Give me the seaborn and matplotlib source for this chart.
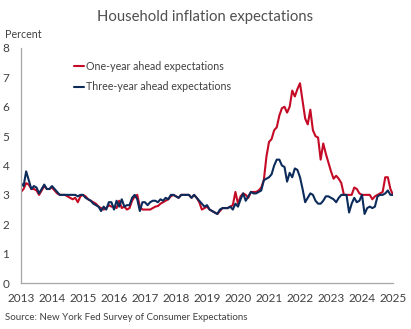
import numpy as np
import pandas as pd
import matplotlib
matplotlib.use("Agg")
import matplotlib.pyplot as plt
import seaborn as sns

# Monthly survey medians, June 2013 through June 2025 (percent)
start_month = "2013-06"
end_month = "2025-06"

one_year = [
    3.1, 3.2, 3.4, 3.35, 3.2, 3.2, 3.15, 3.0, 3.15, 3.3, 3.2, 3.2,
    3.25, 3.15, 3.05, 3.0, 3.0, 3.0, 2.95, 2.9, 2.85, 2.9, 2.75, 2.95,
    3.0, 2.95, 2.85, 2.8, 2.75, 2.7, 2.6, 2.55, 2.5, 2.55, 2.65, 2.6,
    2.6, 2.55, 2.8, 2.55, 2.6, 2.5, 2.55, 2.8, 2.95, 3.0, 2.6, 2.5,
    2.5, 2.5, 2.5, 2.55, 2.6, 2.62, 2.7, 2.75, 2.8, 2.85, 2.95, 3.0,
    2.95, 2.9, 3.0, 3.0, 3.0, 3.0, 2.9, 3.0, 2.9, 2.75, 2.5, 2.55,
    2.6, 2.5, 2.45, 2.4, 2.35, 2.45, 2.55, 2.55, 2.55, 2.6, 2.65, 3.1,
    2.7, 2.95, 3.05, 3.0, 2.9, 3.1, 3.1, 3.1, 3.15, 3.25, 3.5, 4.3,
    4.8, 4.9, 5.2, 5.3, 5.7, 5.95, 6.0, 5.8, 6.0, 6.55, 6.35, 6.6,
    6.8, 6.2, 5.6, 5.4, 5.9, 5.2, 5.0, 4.95, 4.2, 4.75, 4.4, 4.1,
    3.8, 3.55, 3.65, 3.55, 3.4, 3.0, 3.0, 3.0, 3.0, 3.25, 3.2, 3.05,
    3.0, 3.0, 3.0, 3.0, 2.85, 2.95, 3.0, 3.05, 3.1, 3.6, 3.6, 3.2,
    3.0,
]

three_year = [
    3.4, 3.3, 3.8, 3.5, 3.2, 3.3, 3.25, 3.05, 3.2, 3.35, 3.2, 3.2,
    3.3, 3.2, 3.1, 3.0, 3.0, 3.0, 3.0, 3.0, 3.0, 3.0, 2.95, 3.0,
    3.0, 2.9, 2.85, 2.8, 2.7, 2.65, 2.6, 2.45, 2.6, 2.5, 2.75, 2.75,
    2.5, 2.8, 2.6, 2.85, 2.6, 2.65, 2.65, 2.9, 3.0, 2.85, 2.45, 2.75,
    2.75, 2.65, 2.75, 2.8, 2.8, 2.75, 2.85, 2.8, 2.9, 2.85, 3.0, 3.0,
    2.95, 2.9, 3.0, 3.0, 3.0, 3.0, 2.9, 3.0, 2.9, 2.8, 2.7, 2.6,
    2.65, 2.5, 2.45, 2.4, 2.35, 2.5, 2.55, 2.55, 2.55, 2.6, 2.5, 2.7,
    2.6, 2.85, 3.05, 2.8, 2.95, 3.1, 3.05, 3.05, 3.1, 3.15, 3.5, 3.55,
    3.6, 3.7, 4.0, 4.2, 4.2, 4.0, 3.95, 3.45, 3.75, 3.6, 3.9, 3.85,
    3.6, 3.2, 2.75, 2.9, 3.05, 3.0, 2.8, 2.7, 2.7, 2.8, 2.95, 2.95,
    2.9, 2.85, 2.75, 2.9, 3.0, 3.0, 3.0, 2.4, 2.7, 2.9, 2.75, 2.8,
    3.0, 2.35, 2.55, 2.6, 2.55, 2.6, 2.95, 3.0, 3.0, 3.05, 3.15, 3.0,
    3.0,
]

series_names = ["One-year ahead expectations", "Three-year ahead expectations"]
series_colors = ["#C40A25", "#0B2B5B"]
year_labels = [str(y) for y in range(2013, 2026)]
y_ticks = [0, 1, 2, 3, 4, 5, 6, 7, 8]

months = pd.date_range(start_month, end_month, freq="MS")
n = len(months)
df = pd.DataFrame({
    "month": np.tile(np.arange(n), 2),
    "value": one_year + three_year,
    "series": [series_names[0]] * n + [series_names[1]] * n,
})

sns.set_style("white")
plt.rcParams["font.family"] = ["Lato", "DejaVu Sans"]

text_color = "#404040"
axis_color = "#A6A6A6"

fig = plt.figure(figsize=(4.11, 3.29), dpi=100)
ax = fig.add_axes([21 / 411, 1 - 283 / 329, 372 / 411, 235 / 329])

sns.lineplot(
    data=df, x="month", y="value", hue="series",
    palette=dict(zip(series_names, series_colors)),
    linewidth=1.5, ax=ax, legend=True,
)

ax.set_xlim(0, n - 1)
ax.set_ylim(0, 8)
ax.set_xticks(np.arange(0, n, 12))
ax.set_xticklabels(year_labels)
ax.set_yticks(y_ticks)
ax.set_yticklabels([str(t) for t in y_ticks])
ax.set_xlabel("")
ax.set_ylabel("")

for side in ["top", "right"]:
    ax.spines[side].set_visible(False)
for side in ["left", "bottom"]:
    ax.spines[side].set_color(axis_color)
    ax.spines[side].set_linewidth(0.9)

ax.tick_params(axis="x", direction="out", length=4, width=0.9, color=axis_color,
               labelsize=8.5, labelcolor=text_color, pad=3)
ax.tick_params(axis="y", direction="out", length=3, width=0.9, color=axis_color,
               labelsize=8.5, labelcolor=text_color, pad=5.5)

leg = ax.legend(
    loc="upper left", bbox_to_anchor=(0.13, 0.962), frameon=False,
    handlelength=1.0, handletextpad=0.15, labelspacing=0.85,
    fontsize=7.7, labelcolor=text_color, borderaxespad=0.0,
)
for line in leg.get_lines():
    line.set_linewidth(1.5)

fig.text(0.5, 1 - 17 / 329, "Household inflation expectations", ha="center",
         va="center", fontsize=10.7, color="#505050")
fig.text(5 / 411, 1 - 35 / 329, "Percent", ha="left", va="center",
         fontsize=7.7, color=text_color)
fig.text(5 / 411, 1 - 318 / 329, "Source: New York Fed Survey of Consumer Expectations",
         ha="left", va="center", fontsize=7.0, color=text_color)

fig.savefig("out.png", dpi=100, facecolor="white")
